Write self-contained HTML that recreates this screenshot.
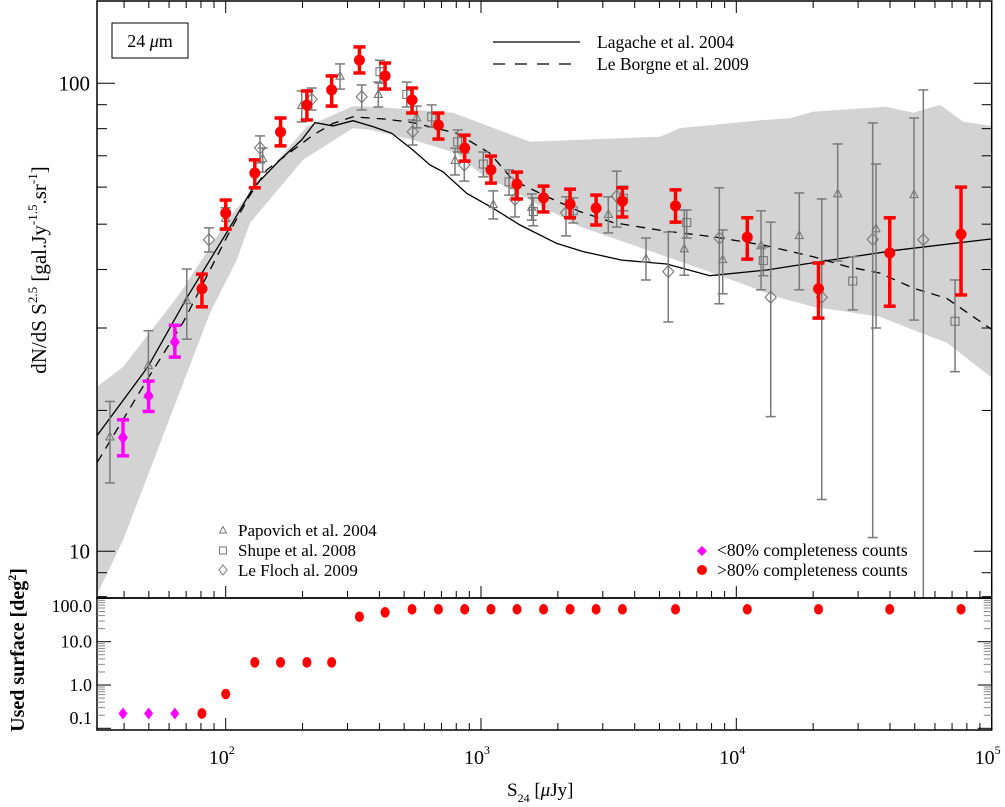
<!DOCTYPE html>
<html><head><meta charset="utf-8">
<style>
html,body{margin:0;padding:0;background:#fff;}
svg{display:block;font-family:"Liberation Serif",serif;}
</style></head>
<body>
<svg id="chart" width="1005" height="807" viewBox="0 0 1005 807" xmlns="http://www.w3.org/2000/svg">
<defs>
<clipPath id="clipMain"><rect x="97" y="1" width="895" height="597"/></clipPath>
<clipPath id="clipLow"><rect x="97" y="598" width="895" height="132"/></clipPath>
</defs>
<g id="band" clip-path="url(#clipMain)"></g>
<g id="models" clip-path="url(#clipMain)"></g>
<g id="gray" clip-path="url(#clipMain)"></g>
<g id="ours" clip-path="url(#clipMain)"></g>
<g id="low" clip-path="url(#clipLow)"></g>
<g id="axes"></g>

<rect x="112" y="23" width="76" height="35" fill="none" stroke="#000" stroke-width="1"/>
<text x="150" y="47" font-size="18" text-anchor="middle">24 <tspan font-style="italic">μ</tspan>m</text>

<g>
<line x1="493" y1="42" x2="580" y2="42" stroke="#000" stroke-width="1.2"/>
<text x="597" y="48" font-size="17.5">Lagache et al. 2004</text>
<line x1="493" y1="64" x2="580" y2="64" stroke="#000" stroke-width="1.2" stroke-dasharray="12,10"/>
<text x="597" y="70" font-size="17.5">Le Borgne et al. 2009</text>
</g>
<g fill="none" stroke="#777" stroke-width="1">
<path d="M219.5,533 L223,526.5 L226.5,533 Z"/>
<rect x="219.5" y="547" width="7" height="7"/>
<path d="M223,565 L227,570 L223,575 L219,570 Z"/>
</g>
<g font-size="17">
<text x="238" y="536">Papovich et al. 2004</text>
<text x="238" y="556">Shupe et al. 2008</text>
<text x="238" y="576">Le Floch al. 2009</text>
</g>
<g>
<path d="M702,546 L707,551 L702,556 L697,551 Z" fill="#ff00ff"/>
<circle cx="702" cy="570" r="5" fill="#ff0000"/>
<text x="717" y="556" font-size="17.5">&lt;80% completeness counts</text>
<text x="717" y="576" font-size="17.5">&gt;80% completeness counts</text>
</g>

<text transform="translate(46,270) rotate(-90)" font-size="21" text-anchor="middle">dN/dS S<tspan font-size="13" dy="-9">2.5</tspan><tspan dy="9"> [gal.Jy</tspan><tspan font-size="13" dy="-9">-1.5</tspan><tspan dy="9">.sr</tspan><tspan font-size="13" dy="-9">-1</tspan><tspan dy="9">]</tspan></text>
<text transform="translate(24,650) rotate(-90)" font-size="20" font-weight="bold" text-anchor="middle">Used surface [deg<tspan font-size="12" dy="-8">2</tspan><tspan dy="8">]</tspan></text>
<text x="507" y="796" font-size="19">S<tspan font-size="12" dy="6">24</tspan><tspan dy="-6"> [</tspan><tspan font-style="italic">μ</tspan>Jy]</text>

<script>
// ---- data ----
const ourFlux = [80.7,100,130,164,208,260,334,421,537,681,863,1094,1384,1758,2233,2825,3580,5780,11040,20990,39900,75900];
const ourCounts = [36.4,52.8,64.3,78.7,89.9,96.8,112.1,103.7,92.1,81.4,72.7,65.3,60.9,56.9,55.2,54.1,56.0,54.7,46.9,36.4,43.4,47.6];
const ourHi = [39.1,56.3,68.6,84.3,96.3,103.7,119.6,110.5,97.7,86.4,77.5,69.9,64.6,60.3,59.4,57.7,59.8,59.2,51.6,41.3,51.6,60.0];
const ourLo = [33.3,48.8,59.8,73.5,83.5,89.4,105.2,97.2,86.4,76.0,68.2,61.2,56.6,53.1,51.6,49.8,51.8,50.5,42.1,31.5,33.4,35.3];
const ourSurface = [0.22,0.62,3.34,3.34,3.34,3.34,37.8,47.7,56,56,56,56,56,56,56,56,56,56,56,56,56,56];

const incFlux = [39.6,49.9,63.2];
const incCounts = [17.5,21.5,28.0];
const incHi = [19.1,23.1,30.4];
const incLo = [16.0,19.9,26.0];
const incSurface = [0.22,0.22,0.22];

const papFlux = [35.2,49.8,70.4,100,139.6,198.5,280.4,396,560,791,1117,1580,3152,4429,6256,8846,12500,17650,24960,35260,49670];
const papCounts = [17.6,25.0,34.4,51.6,69.2,89.9,103.8,94.9,84.6,68.6,55.2,54.5,52.6,42.3,44.4,42.1,45.1,47.4,58.2,49.0,58.0];
const papHi = [20.9,29.6,40.1,54.2,72.7,96.3,110,100.6,89.4,72.7,58.9,58.0,57.2,46.7,53.6,48.6,53.4,58.3,74.2,67.2,84.3];
const papLo = [14.0,21.3,28.4,49.1,64.6,82.7,97.2,89.0,80.3,63.7,51.3,51.0,47.9,38.0,38.9,35.5,36.2,36.2,41.7,30.0,31.2];

const shuFlux = [402,512,641,810,1021,1288,1603,2299,3609,6394,12760,28580,71900];
const shuCounts = [105.9,94.7,84.8,75.0,67.2,61.6,53.2,53.4,56.8,50.4,41.8,37.8,31.0];
const shuHi = [112,100.6,89.9,79.5,71.3,65.3,56.9,56.9,60.3,53.6,44.7,42.6,38.0];
const shuLo = [100.1,89.0,80.6,71.3,63.1,57.7,49.6,50.3,53.4,46.7,38.8,32.8,24.2];

const lefFlux = [86.0,136.3,217.2,341,540,860,1359,2153,3400,5416,8579,13640,21610,34220,54020];
const lefCounts = [46.3,72.8,92.4,93.6,78.8,66.9,56.5,52.9,57.4,39.6,46.7,34.9,34.9,46.4,46.3];
const lefHi = [49.1,77.2,97.7,99.2,83.5,71.0,59.8,57.2,64.9,48.1,59.8,50.5,56.6,82.3,96.8];
const lefLo = [43.6,67.6,87.7,87.7,73.8,61.8,51.8,47.2,49.3,30.9,33.8,19.4,12.9,10.7,6.0];

const lagFlux = [31.4,49.6,70.4,102.4,127.9,163.2,198.5,223.7,263.3,315.2,377.6,446.8,541.6,631.4,710,879,1114,1422,1980,2516,3557,5340,7889,13150,23280,42500,100100];
const lagCounts = [17.7,24.8,34.8,48.6,59.8,68.6,75.7,82.4,81.1,83.2,80.8,78.2,72.0,66.9,64.7,58.2,54.1,49.8,45.5,43.7,41.9,41.1,38.8,39.9,41.9,44.0,46.5];

const lbFlux = [31.4,49.8,68.2,102,124.5,144.7,219.8,263.3,315.2,427,541.6,803,1084,1335,1809,2442,3298,5177,8128,12760,20030,27070,36560,49350,66710,100000];
const lbCounts = [15.5,23.5,30.9,47.4,57.7,65.3,77.5,82.1,84.8,83.8,82.4,78.2,70.9,62.1,57.3,53.2,50.4,48.4,47.0,45.1,42.6,40.6,39.3,36.5,34.7,29.8];

const bandUpFlux = [31.4,39.7,66.2,104,144.7,207.6,315.2,402,777,1556,5024,6017,12760,16230,20030,38820,49350,62820,77480,100000];
const bandUp = [22.5,24.8,35.6,51.9,64.3,80.8,89.4,88.9,86.5,75.0,76.9,80.2,83.5,84.2,87.0,89.1,86.5,89.9,82.8,81.1];
const bandLoFlux = [31.4,39.7,86.8,110.4,124.5,200.8,315.2,367.5,541.6,803,991,1556,2442,8128,14840,20030,36560,49350,66900,100000];
const bandLo = [8.1,10.6,32.3,41.9,50.3,68.6,80.2,79.5,75.7,70.9,64.3,56.3,49.4,39.3,34.8,33.3,31.7,29.7,27.9,23.5];

const xMajorTicks = [100,1000,10000,100000];
const xTickLabels = ['2','3','4','5'];
const yMainTicks = [10,100];
const yMainLabels = ['10','100'];
const yLowTicks = [0.1,1,10,100];
const yLowLabels = ['0.1','1.0','10.0','100.0'];

// ---- axes ----
const L = Math.log10;
const X = v => 225.7 + (L(v) - 2) * 255.3;
const Y = v => 83.3 + (2 - L(v)) * 468;
const Y2 = v => 641.7 + (1 - L(v)) * 43.3;
const NS = 'http://www.w3.org/2000/svg';
function mk(tag, parent, attrs) {
  const e = document.createElementNS(NS, tag);
  for (const k in attrs) e.setAttribute(k, attrs[k]);
  parent.appendChild(e);
  return e;
}
const gBand = document.getElementById('band');
const gModels = document.getElementById('models');
const gGray = document.getElementById('gray');
const gOurs = document.getElementById('ours');
const gLow = document.getElementById('low');
const gAxes = document.getElementById('axes');

// band
let d = '';
bandUpFlux.forEach((f, i) => { d += (i ? 'L' : 'M') + X(f).toFixed(1) + ',' + Y(bandUp[i]).toFixed(1); });
for (let i = bandLoFlux.length - 1; i >= 0; i--) d += 'L' + X(bandLoFlux[i]).toFixed(1) + ',' + Y(bandLo[i]).toFixed(1);
const band = mk('path', gBand, {d: d + 'Z', fill: '#d3d3d3'});



function linePath(fx, fy) { return fx.map((f, i) => (i ? 'L' : 'M') + X(f).toFixed(1) + ',' + Y(fy[i]).toFixed(1)).join(''); }
const lag = mk('path', gModels, {d: linePath(lagFlux, lagCounts), fill: 'none', stroke: '#000', 'stroke-width': 1.3});


const lb = mk('path', gModels, {d: linePath(lbFlux, lbCounts), fill: 'none', stroke: '#000', 'stroke-width': 1.3, 'stroke-dasharray': '9,7'});



// gray literature points
function errBar(g, x, yh, yl, color, w, cap) {
  mk('line', g, {x1: x, y1: yh, x2: x, y2: yl, stroke: color, 'stroke-width': w});
  mk('line', g, {x1: x - cap, y1: yh, x2: x + cap, y2: yh, stroke: color, 'stroke-width': w});
  mk('line', g, {x1: x - cap, y1: yl, x2: x + cap, y2: yl, stroke: color, 'stroke-width': w});
}
function grayPoints(fx, fy, hi, lo, shape, name) {
  fx.forEach((f, i) => {
    const g = mk('g', gGray, {});
    
    
    const x = X(f), y = Y(fy[i]);
    errBar(g, x, Y(hi[i]), Y(lo[i]), '#7a7a7a', 1.5, 5);
    let dd;
    if (shape === 'tri') dd = `M${x-4},${y+3.5}L${x},${y-4}L${x+4},${y+3.5}Z`;
    else if (shape === 'sq') dd = `M${x-4},${y-4}h8v8h-8Z`;
    else dd = `M${x},${y-6}L${x+5.5},${y}L${x},${y+6}L${x-5.5},${y}Z`;
    mk('path', g, {d: dd, fill: 'none', stroke: '#777', 'stroke-width': 1.1});
  });
}
grayPoints(papFlux, papCounts, papHi, papLo, 'tri', 'papovich-point');
grayPoints(shuFlux, shuCounts, shuHi, shuLo, 'sq', 'shupe-point');
grayPoints(lefFlux, lefCounts, lefHi, lefLo, 'dia', 'le-floch-point');

// our points
incFlux.forEach((f, i) => {
  const g = mk('g', gOurs, {});
  
  
  const x = X(f), y = Y(incCounts[i]);
  errBar(g, x, Y(incHi[i]), Y(incLo[i]), '#ff00ff', 3.5, 6);
  mk('path', g, {d: `M${x},${y-7}L${x+5},${y}L${x},${y+7}L${x-5},${y}Z`, fill: '#ff00ff'});
});
ourFlux.forEach((f, i) => {
  const g = mk('g', gOurs, {});
  
  
  const x = X(f), y = Y(ourCounts[i]);
  errBar(g, x, Y(ourHi[i]), Y(ourLo[i]), '#ff0000', 3.5, 6);
  mk('circle', g, {cx: x, cy: y, r: 5.5, fill: '#ff0000'});
});

// lower panel
incFlux.forEach((f, i) => {
  const x = X(f), y = Y2(incSurface[i]);
  const p = mk('path', gLow, {d: `M${x},${y-6}L${x+4.5},${y}L${x},${y+6}L${x-4.5},${y}Z`, fill: '#ff00ff'});
  
  
});
ourFlux.forEach((f, i) => {
  const c = mk('ellipse', gLow, {cx: X(f), cy: Y2(ourSurface[i]), rx: 4.5, ry: 5.3, fill: '#ff0000'});
  
  
});

// frames
const f1 = mk('rect', gAxes, {x: 97, y: 1, width: 894.7, height: 597, fill: 'none', stroke: '#000', 'stroke-width': 1.5});


const f2 = mk('rect', gAxes, {x: 97, y: 598, width: 894.7, height: 132, fill: 'none', stroke: '#000', 'stroke-width': 1.5});



// x ticks
const xt = mk('g', gAxes, {stroke: '#000', 'stroke-width': 1});


for (let e = 1; e <= 5; e++) for (let m = 1; m <= 9; m++) {
  const v = m * Math.pow(10, e);
  const x = X(v);
  if (x < 97 || x > 992) continue;
  const len = m === 1 ? 12 : 7;
  mk('line', xt, {x1: x, y1: 1, x2: x, y2: 1 + len});
  mk('line', xt, {x1: x, y1: 598, x2: x, y2: 598 - len});
  mk('line', xt, {x1: x, y1: 730, x2: x, y2: 730 - len});
}
xMajorTicks.forEach((v, i) => {
  const t = mk('text', gAxes, {x: X(v) - 4, y: 764, 'font-size': 20, 'text-anchor': 'middle'});
  
  
  t.textContent = '10';
  const s = mk('tspan', t, {'font-size': 12, dy: -10});
  s.textContent = xTickLabels[i];
});

// y ticks main
const yt = mk('g', gAxes, {stroke: '#000', 'stroke-width': 1});


for (let e = 0; e <= 2; e++) for (let m = 1; m <= 9; m++) {
  const v = m * Math.pow(10, e);
  const y = Y(v);
  if (y < 1 || y > 598) continue;
  const len = m === 1 ? 18 : 10;
  mk('line', yt, {x1: 97, y1: y, x2: 97 + len, y2: y});
  mk('line', yt, {x1: 991.7, y1: y, x2: 991.7 - len, y2: y});
}
yMainTicks.forEach((v, i) => {
  const t = mk('text', gAxes, {x: 90, y: Y(v) + 7, 'font-size': 21, 'text-anchor': 'end'});
  
  
  t.textContent = yMainLabels[i];
});
// y ticks lower
const yt2 = mk('g', gAxes, {stroke: '#777', 'stroke-width': 1});


for (let e = -2; e <= 2; e++) for (let m = 1; m <= 9; m++) {
  const v = m * Math.pow(10, e);
  const y = Y2(v);
  if (y < 598 || y > 730) continue;
  const len = m === 1 ? 14 : 8;
  const col = m === 1 ? '#000' : '#888';
  mk('line', yt2, {x1: 97, y1: y, x2: 97 + len, y2: y, stroke: col});
  mk('line', yt2, {x1: 991.7, y1: y, x2: 991.7 - len, y2: y, stroke: col});
}
yLowTicks.forEach((v, i) => {
  const y = Math.min(Math.max(Y2(v), 606), 718);
  const t = mk('text', gAxes, {x: 92, y: y + 6, 'font-size': 18, 'text-anchor': 'end'});
  
  
  t.textContent = yLowLabels[i];
});
</script>
</svg>
</body></html>
